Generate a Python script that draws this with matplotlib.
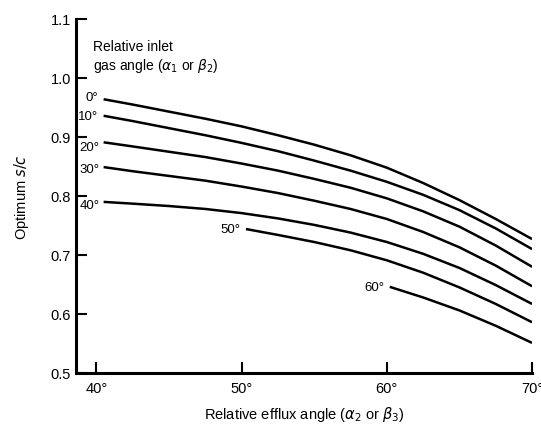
import matplotlib
matplotlib.use("Agg")
import matplotlib.pyplot as plt

plt.rcParams['font.family'] = ['Liberation Sans', 'DejaVu Sans']

# Data
x_main = [40.5, 42.5, 45, 47.5, 50, 52.5, 55, 57.5, 60, 62.5, 65, 67.5, 70]
s_c_0 = [0.964, 0.955, 0.943, 0.931, 0.918, 0.903, 0.887, 0.869, 0.848, 0.822, 0.793, 0.761, 0.727]
s_c_10 = [0.936, 0.927, 0.915, 0.903, 0.890, 0.876, 0.860, 0.843, 0.824, 0.802, 0.776, 0.745, 0.710]
s_c_20 = [0.891, 0.884, 0.875, 0.866, 0.855, 0.843, 0.829, 0.814, 0.796, 0.774, 0.748, 0.716, 0.680]
s_c_30 = [0.849, 0.842, 0.834, 0.826, 0.816, 0.805, 0.792, 0.778, 0.761, 0.739, 0.713, 0.682, 0.647]
s_c_40 = [0.790, 0.787, 0.783, 0.778, 0.771, 0.762, 0.751, 0.738, 0.722, 0.702, 0.678, 0.649, 0.617]
x_50 = [50.3, 52.5, 55, 57.5, 60, 62.5, 65, 67.5, 70]
s_c_50 = [0.744, 0.734, 0.722, 0.708, 0.691, 0.670, 0.645, 0.617, 0.586]
x_60 = [60.2, 62.5, 65, 67.5, 70]
s_c_60 = [0.646, 0.628, 0.606, 0.580, 0.551]

inlet_labels = ['0°', '10°', '20°', '30°', '40°', '50°', '60°']
x_ticks = [40, 50, 60, 70]
x_tick_labels = ['40°', '50°', '60°', '70°']
y_ticks = [0.5, 0.6, 0.7, 0.8, 0.9, 1.0, 1.1]
y_tick_labels = ['0.5', '0.6', '0.7', '0.8', '0.9', '1.0', '1.1']

fig = plt.figure(figsize=(5.41, 4.31), dpi=100)
ax = fig.add_axes([0.1405, 0.1323, 0.843, 0.8213])

series = [(x_main, s_c_0), (x_main, s_c_10), (x_main, s_c_20), (x_main, s_c_30),
          (x_main, s_c_40), (x_50, s_c_50), (x_60, s_c_60)]
for xs, ys in series:
    ax.plot(xs, ys, color='black', lw=1.8, solid_capstyle='butt',
            solid_joinstyle='round')

# curve labels (placed left of curve start)
label_offsets = [(-0.4, 0.004), (-0.4, 0.0), (-0.3, -0.008), (-0.3, -0.004),
                 (-0.3, -0.006), (-0.4, 0.0), (-0.4, 0.0)]
for (xs, ys), lab, (dx, dy) in zip(series, inlet_labels, label_offsets):
    ax.text(xs[0] + dx, ys[0] + dy, lab, ha='right', va='center', fontsize=9.5)

ax.text(39.8, 1.037, 'Relative inlet\ngas angle ($\\alpha_1$ or $\\beta_2$)',
        ha='left', va='center', fontsize=10, linespacing=1.25)

ax.set_xlim(38.6, 70)
ax.set_ylim(0.5, 1.1)
ax.set_xticks(x_ticks)
ax.set_xticklabels(x_tick_labels, fontsize=10.5)
ax.set_yticks(y_ticks)
ax.set_yticklabels(y_tick_labels, fontsize=10.5)
ax.tick_params(axis='both', direction='in', length=8, width=1.5, color='black')
ax.tick_params(axis='x', pad=6)

for side in ['top', 'right']:
    ax.spines[side].set_visible(False)
for side in ['left', 'bottom']:
    ax.spines[side].set_linewidth(2.2)

ax.set_xlabel('Relative efflux angle ($\\alpha_2$ or $\\beta_3$)', fontsize=10.5, labelpad=6)
ax.set_ylabel('Optimum $s/c$', fontsize=10.5, labelpad=14)

fig.savefig('out.png', dpi=100)
